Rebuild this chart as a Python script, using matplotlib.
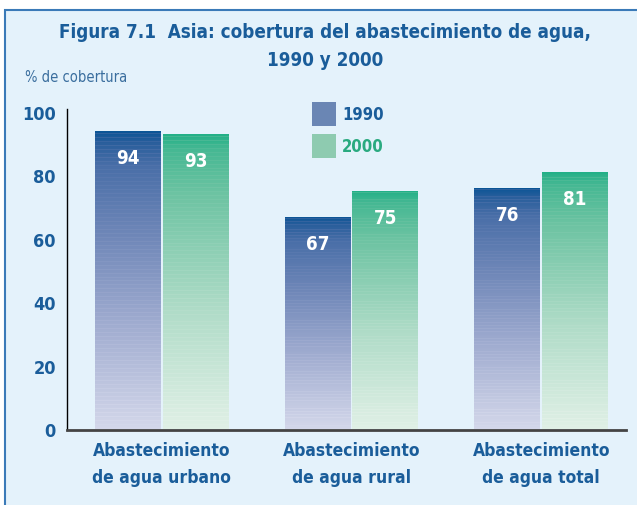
import numpy as np
import matplotlib
matplotlib.use("Agg")
import matplotlib.pyplot as plt
from matplotlib.colors import LinearSegmentedColormap
from matplotlib.patches import Rectangle

# datos
categorias = ["Abastecimiento\nde agua urbano", "Abastecimiento\nde agua rural", "Abastecimiento\nde agua total"]
anios = ["1990", "2000"]
v1990 = [94, 67, 76]
v2000 = [93, 75, 81]
yticks = [0, 20, 40, 60, 80, 100]

azul = "#1a5d9a"
fuente = dict(family="DejaVu Sans", stretch="condensed", weight="bold")

cmap90 = LinearSegmentedColormap.from_list("c90", [(0, "#d3d7ea"), (0.35, "#a0acd0"), (0.65, "#6f87b8"), (0.88, "#4a6fa8"), (0.96, "#2a5f9c"), (1, "#0a5596")])
cmap00 = LinearSegmentedColormap.from_list("c00", [(0, "#e0f0e6"), (0.4, "#b0dcc8"), (0.8, "#6cc3a2"), (0.95, "#45b893"), (1, "#22b087")])

fig = plt.figure(figsize=(6.37, 5.06), dpi=100)
fig.patch.set_facecolor("white")
fig.patches.append(Rectangle((5 / 637, -0.05), 1.1, 1 - 11 / 506 + 0.05, transform=fig.transFigure,
                             facecolor="#e4f2fb", edgecolor="#3a7ab8", lw=1.5, zorder=-10))

ax = fig.add_axes([67 / 637, 1 - 430.5 / 506, (626 - 67) / 637, (430.5 - 113) / 506])
ax.set_facecolor("none")

x = np.arange(len(categorias))
w = 0.347
# degradado con rayas finas horizontales
n = 300
grad = np.linspace(0, 1, n)
rayas = np.where(np.arange(n) % 4 == 0, 0.04, 0.0)
grad = np.clip(grad - rayas, 0, 1).reshape(-1, 1)

for vals, off, cm in [(v1990, -w / 2 - 0.005, cmap90), (v2000, w / 2 + 0.005, cmap00)]:
    bars = ax.bar(x + off, vals, w, color="none", edgecolor="none")
    for b, v in zip(bars, vals):
        x0 = b.get_x()
        im = ax.imshow(grad, cmap=cm, origin="lower", aspect="auto", interpolation="nearest",
                       extent=[x0, x0 + b.get_width(), 0, v], zorder=1)
        im.set_clip_path(b)
        ax.annotate(str(v), (x0 + b.get_width() / 2, v), xytext=(0, -19), textcoords="offset points",
                    ha="center", va="center", color="white", fontsize=13.5, **fuente)

ax.set_xlim(-0.5, 2.447)
ax.set_ylim(0, 100)
ax.set_yticks(yticks)
ax.set_yticklabels([str(t) for t in yticks], color=azul, fontsize=13, **fuente)
ax.tick_params(axis="y", length=0, pad=8)
ax.set_xticks(x)
ax.set_xticklabels(categorias, color=azul, fontsize=12.5, linespacing=1.7, **fuente)
ax.tick_params(axis="x", length=0, pad=8)
for s in ["top", "right"]:
    ax.spines[s].set_visible(False)
ax.spines["left"].set_linewidth(1)
ax.spines["left"].set_bounds(0, 101)
ax.spines["bottom"].set_linewidth(2)
ax.spines["bottom"].set_color("#444444")

# leyenda
fig.patches.append(Rectangle((312 / 637, 1 - 127 / 506), 24 / 637, 24 / 506, transform=fig.transFigure,
                             facecolor="#6a86b4", edgecolor="none"))
fig.patches.append(Rectangle((312 / 637, 1 - 159 / 506), 24 / 637, 24 / 506, transform=fig.transFigure,
                             facecolor="#8ecbb0", edgecolor="none"))
fig.text(342 / 637, 1 - 115 / 506, anios[0], color=azul, fontsize=12, va="center", **fuente)
fig.text(342 / 637, 1 - 147 / 506, anios[1], color="#2aaa80", fontsize=12, va="center", **fuente)

fig.text(325 / 637, 1 - 33 / 506, "Figura 7.1  Asia: cobertura del abastecimiento de agua,", color=azul,
         fontsize=13.5, ha="center", va="center", **fuente)
fig.text(325 / 637, 1 - 61 / 506, "1990 y 2000", color=azul, fontsize=13.5, ha="center", va="center", **fuente)
fig.text(25 / 637, 1 - 77 / 506, "% de cobertura", color="#3a6e9e", fontsize=10.5, va="center",
         family="DejaVu Sans", stretch="condensed")

fig.savefig("out.png", dpi=100)
